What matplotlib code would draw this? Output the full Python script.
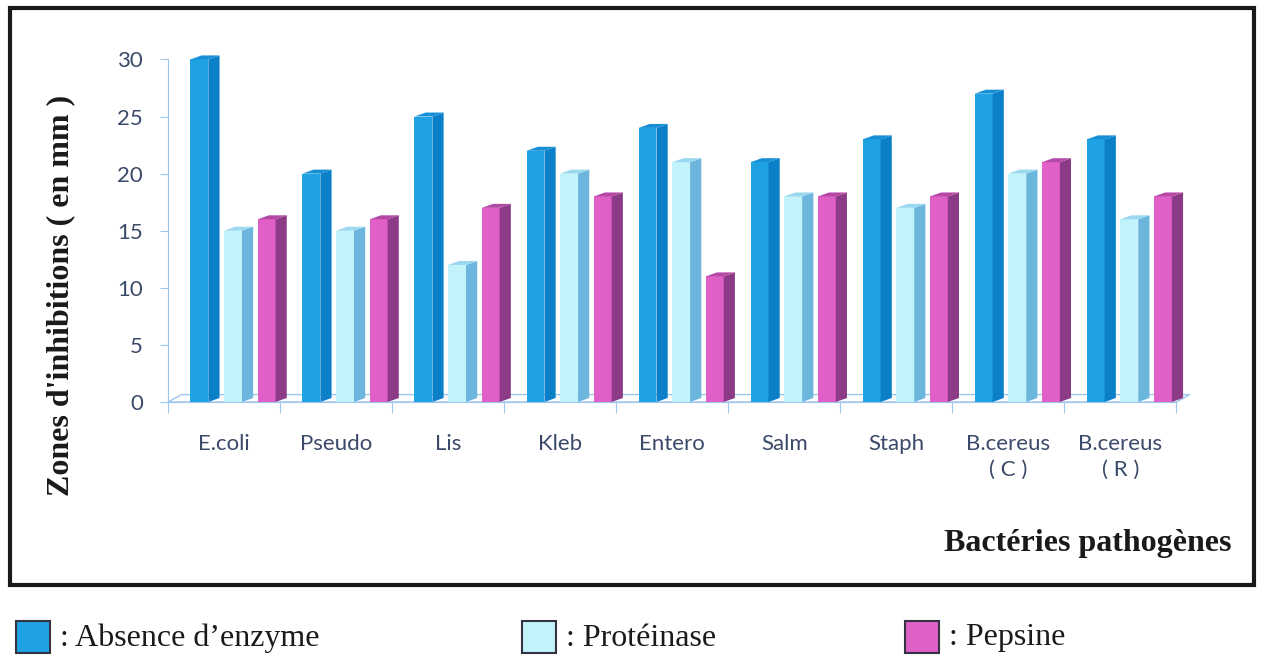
import matplotlib
matplotlib.use('Agg')
import matplotlib.pyplot as plt
from matplotlib.patches import Polygon, Rectangle

# Inhibition zones (mm) per pathogen and enzyme treatment
bacteria = ['E.coli', 'Pseudo', 'Lis', 'Kleb', 'Entero', 'Salm', 'Staph',
            'B.cereus\n( C )', 'B.cereus\n( R )']
absence = [30, 20, 25, 22, 24, 21, 23, 27, 23]
proteinase = [15, 15, 12, 20, 21, 18, 17, 20, 16]
pepsine = [16, 16, 17, 18, 11, 18, 18, 21, 18]
yticks = [0, 5, 10, 15, 20, 25, 30]

series = [
    (absence, ': Absence d\u2019enzyme', '#1ea2e4', '#0b80c8', '#178fd6'),
    (proteinase, ': Protéinase', '#c2f3fb', '#6cb6de', '#9ad8f0'),
    (pepsine, ': Pepsine', '#e060c8', '#8c3c86', '#b44aa6'),
]

serif = 'Liberation Serif'
tick_font = 'Lato'
tick_color = '#3a4a68'
axis_color = '#9cc6ec'

fig = plt.figure(figsize=(12.64, 6.61), dpi=100)
ax = fig.add_axes([168 / 1264, 259 / 661, 1033 / 1264, 354 / 661])
ax.set_xlim(-0.5, 8.72)
ax.set_ylim(0, 31)
ax.patch.set_alpha(0)

# 3D-ish depth of every bar, in data units
dx, dy = 0.10, 0.35
width = 0.16
offsets = [-0.30, 0.0, 0.30]

# floor of the chart
floor = Polygon([(-0.5, 0), (8.5, 0), (8.62, 0.65), (-0.38, 0.65)],
                closed=True, facecolor='none', edgecolor=axis_color, lw=1.0, clip_on=False)
ax.add_patch(floor)

for (vals, label, front, side, top), off in zip(series, offsets):
    xs = [i + off for i in range(len(bacteria))]
    ax.bar(xs, vals, width=width, align='edge', color=front, edgecolor='none', zorder=3)
    for x0, h in zip(xs, vals):
        x1 = x0 + width
        ax.add_patch(Polygon([(x1, 0), (x1 + dx, dy), (x1 + dx, h + dy), (x1, h)],
                             closed=True, facecolor=side, edgecolor='none', zorder=3))
        ax.add_patch(Polygon([(x0, h), (x1, h), (x1 + dx, h + dy), (x0 + dx, h + dy)],
                             closed=True, facecolor=top, edgecolor='none', zorder=3))

for s in ['top', 'right']:
    ax.spines[s].set_visible(False)
ax.spines['left'].set_bounds(0, 30)
ax.spines['bottom'].set_bounds(-0.5, 8.5)
ax.spines['left'].set_color(axis_color)
ax.spines['bottom'].set_color(axis_color)

ax.set_yticks(yticks)
ax.set_yticklabels([str(v) for v in yticks], fontfamily=tick_font, fontsize=16, color=tick_color)
ax.tick_params(axis='y', colors=axis_color, length=6, pad=12, labelcolor=tick_color)

ax.set_xticks([i - 0.5 for i in range(len(bacteria) + 1)])
ax.set_xticklabels([])
ax.tick_params(axis='x', colors=axis_color, length=8)
ax.set_xticks(range(len(bacteria)), minor=True)
ax.set_xticklabels(bacteria, minor=True, fontfamily=tick_font, fontsize=16,
                   color=tick_color, linespacing=1.4, va='top')
ax.tick_params(axis='x', which='minor', length=0, pad=23)

ax.set_ylabel('Zones d\'inhibitions ( en mm )', fontfamily=serif, fontweight='bold',
              fontsize=23, color='#1a1a1a', labelpad=0)
ax.yaxis.set_label_coords(-0.090, 0.30)

fig.text(1232 / 1264, 1 - 543 / 661, 'Bactéries pathogènes', fontfamily=serif,
         fontweight='bold', fontsize=23, color='#1a1a1a', ha='right', va='center')

# outer frame around the chart
fig.patches.append(Rectangle((10 / 1264, 1 - 585 / 661), 1244 / 1264, 577 / 661,
                             transform=fig.transFigure, fill=False, edgecolor='#1a1a1a', lw=3))

# legend row under the frame
legend_x = [16, 522, 905]
for (vals, label, front, side, top), lx in zip(series, legend_x):
    fig.patches.append(Rectangle((lx / 1264, 1 - 653 / 661), 34 / 1264, 32 / 661,
                                 transform=fig.transFigure, facecolor=front,
                                 edgecolor='#333344', lw=1.5))
    fig.text((lx + 44) / 1264, 1 - 638 / 661, label, fontfamily=serif, fontsize=23,
             color='#1a1a1a', ha='left', va='center')

fig.savefig('out.png', dpi=100)
